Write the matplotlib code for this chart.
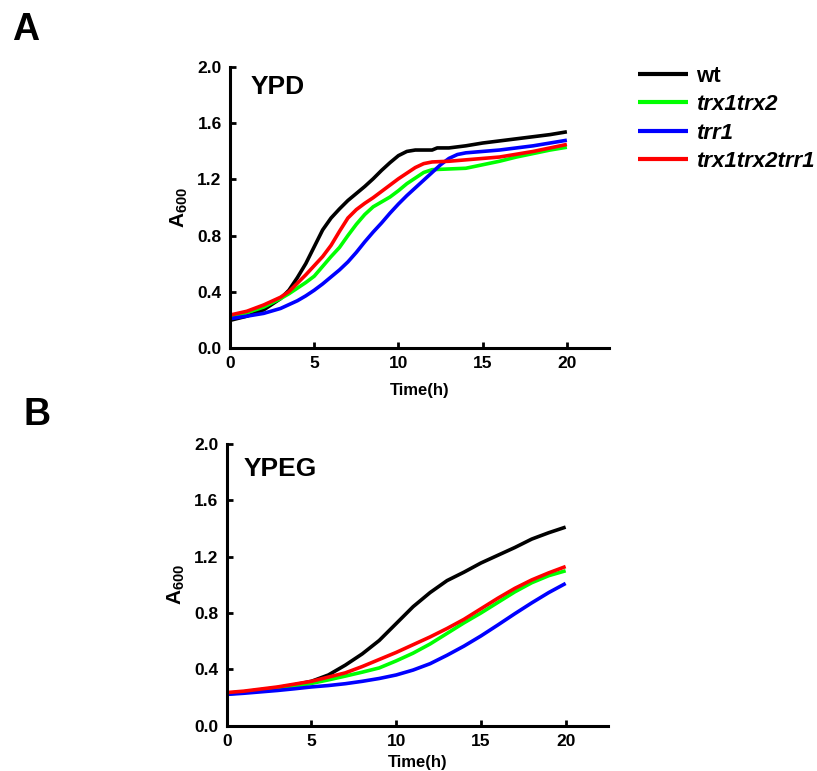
import matplotlib
matplotlib.use("Agg")
import matplotlib.pyplot as plt

plt.rcParams['font.family'] = ['Liberation Sans', 'DejaVu Sans']
plt.rcParams['font.weight'] = 'bold'
plt.rcParams['mathtext.fontset'] = 'custom'
plt.rcParams['mathtext.rm'] = 'Liberation Sans:bold'
plt.rcParams['mathtext.bf'] = 'Liberation Sans:bold'

# ---- growth data, YPD ----
ypd_wt_t = [0, 1, 2, 3, 3.5, 4, 4.5, 5, 5.5, 6, 6.5, 7, 7.5, 8, 8.5, 9, 9.5, 10,
            10.5, 11, 12, 12.3, 13, 14, 15, 16, 17, 18, 19, 20]
ypd_wt = [0.195, 0.225, 0.27, 0.35, 0.41, 0.50, 0.60, 0.72, 0.84, 0.925, 0.99, 1.05,
          1.10, 1.15, 1.205, 1.265, 1.32, 1.37, 1.40, 1.41, 1.41, 1.425, 1.425, 1.44,
          1.46, 1.475, 1.49, 1.505, 1.52, 1.54]

ypd_trx_t = [0, 1, 2, 3, 3.5, 4, 4.5, 5, 5.5, 6, 6.5, 7, 7.5, 8, 8.5, 9, 9.5, 10,
             10.5, 11, 11.5, 12, 13, 14, 15, 16, 17, 18, 19, 20]
ypd_trx = [0.22, 0.25, 0.29, 0.35, 0.385, 0.425, 0.465, 0.51, 0.58, 0.65, 0.715, 0.80,
           0.88, 0.95, 1.005, 1.04, 1.075, 1.12, 1.17, 1.21, 1.25, 1.27, 1.275, 1.28,
           1.305, 1.33, 1.36, 1.385, 1.41, 1.43]

ypd_trr_t = [0, 1, 2, 3, 4, 4.5, 5, 5.5, 6, 6.5, 7, 7.5, 8, 8.5, 9, 9.5, 10, 10.5, 11,
             11.5, 12, 12.5, 13, 13.5, 14, 15, 16, 17, 18, 19, 20]
ypd_trr = [0.207, 0.225, 0.245, 0.28, 0.335, 0.37, 0.41, 0.455, 0.505, 0.555, 0.612,
           0.68, 0.755, 0.825, 0.89, 0.96, 1.025, 1.085, 1.14, 1.195, 1.25, 1.305, 1.35,
           1.378, 1.39, 1.40, 1.41, 1.425, 1.44, 1.46, 1.48]

ypd_triple_t = [0, 1, 2, 3, 3.5, 4, 4.5, 5, 5.5, 6, 6.5, 7, 7.5, 8, 8.5, 9, 9.5, 10,
                10.5, 11, 11.5, 12, 13, 14, 15, 16, 17, 18, 19, 20]
ypd_triple = [0.233, 0.26, 0.305, 0.36, 0.40, 0.46, 0.52, 0.585, 0.65, 0.73, 0.83,
              0.925, 0.985, 1.03, 1.07, 1.115, 1.16, 1.205, 1.245, 1.285, 1.313, 1.325,
              1.33, 1.34, 1.35, 1.36, 1.38, 1.40, 1.425, 1.45]

# ---- growth data, YPEG ----
ypeg_t = list(range(0, 21))
ypeg_wt = [0.23, 0.24, 0.255, 0.27, 0.29, 0.315, 0.36, 0.43, 0.51, 0.605, 0.725, 0.845,
           0.945, 1.03, 1.09, 1.155, 1.21, 1.265, 1.325, 1.37, 1.41]
ypeg_trx = [0.225, 0.235, 0.25, 0.265, 0.28, 0.30, 0.325, 0.352, 0.38, 0.41, 0.46, 0.515,
            0.58, 0.655, 0.73, 0.80, 0.875, 0.95, 1.015, 1.065, 1.10]
ypeg_trr = [0.222, 0.23, 0.24, 0.25, 0.262, 0.275, 0.285, 0.298, 0.315, 0.335, 0.36, 0.395,
            0.44, 0.50, 0.565, 0.637, 0.715, 0.795, 0.872, 0.945, 1.01]
ypeg_triple = [0.235, 0.245, 0.26, 0.275, 0.295, 0.315, 0.345, 0.375, 0.42, 0.47, 0.52,
               0.575, 0.63, 0.69, 0.755, 0.83, 0.905, 0.975, 1.035, 1.085, 1.13]

strains = ['wt', 'trx1trx2', 'trr1', 'trx1trx2trr1']
colors = ['#000000', '#00ff00', '#0000ff', '#ff0000']
yticks = [0.0, 0.4, 0.8, 1.2, 1.6, 2.0]
xticks = [0, 5, 10, 15, 20]

fig = plt.figure(figsize=(8.17, 7.71), dpi=100)
axA = fig.add_axes([0.2815, 0.549, 0.4639, 0.3637])
axB = fig.add_axes([0.2775, 0.0588, 0.4667, 0.3653])

panels = [
    (axA, 'YPD', [(ypd_wt_t, ypd_wt), (ypd_trx_t, ypd_trx), (ypd_trr_t, ypd_trr),
                  (ypd_triple_t, ypd_triple)], (1.2, 1.86), 8.5),
    (axB, 'YPEG', [(ypeg_t, ypeg_wt), (ypeg_t, ypeg_trx), (ypeg_t, ypeg_trr),
                   (ypeg_t, ypeg_triple)], (1.0, 1.82), 4),
]

handles = []
for ax, medium, series, txt_pos, xpad in panels:
    lines = []
    for (t, v), name, c in zip(series, strains, colors):
        ln, = ax.plot(t, v, color=c, lw=2.6, label=name, solid_capstyle='butt',
                      solid_joinstyle='round')
        lines.append(ln)
    if not handles:
        handles = lines
    ax.set_xlim(0, 22.5)
    ax.set_ylim(0, 2.0)
    ax.set_xticks(xticks)
    ax.set_yticks(yticks)
    ax.set_yticklabels([f'{y:.1f}' for y in yticks])
    for s in ('top', 'right'):
        ax.spines[s].set_visible(False)
    for s in ('left', 'bottom'):
        ax.spines[s].set_linewidth(2.2)
    ax.tick_params(direction='in', length=4, width=2, labelsize=12.5, pad=6)
    for lab in ax.get_xticklabels() + ax.get_yticklabels():
        lab.set_fontweight('bold')
    ax.set_xlabel('Time(h)', fontsize=12, fontweight='bold', labelpad=xpad)
    ax.set_ylabel(r'$\mathbf{A_{600}}$', fontsize=15, labelpad=5)
    ax.text(txt_pos[0], txt_pos[1], medium, fontsize=19, fontweight='bold',
            va='center', ha='left')

leg = fig.legend(handles, strains, loc='upper left', bbox_to_anchor=(0.781, 0.9146),
                 frameon=False, fontsize=16, handlelength=2.25, handletextpad=0.35,
                 labelspacing=0.33, borderpad=0, borderaxespad=0)
for i, txt in enumerate(leg.get_texts()):
    txt.set_fontweight('bold')
    if i > 0:
        txt.set_fontstyle('italic')
for ln in leg.get_lines():
    ln.set_linewidth(3)

fig.text(12 / 817, 1 - 40 / 771, 'A', fontsize=27, fontweight='bold', va='baseline')
fig.text(23 / 817, 1 - 425 / 771, 'B', fontsize=27, fontweight='bold', va='baseline')

fig.savefig('out.png', dpi=100)
